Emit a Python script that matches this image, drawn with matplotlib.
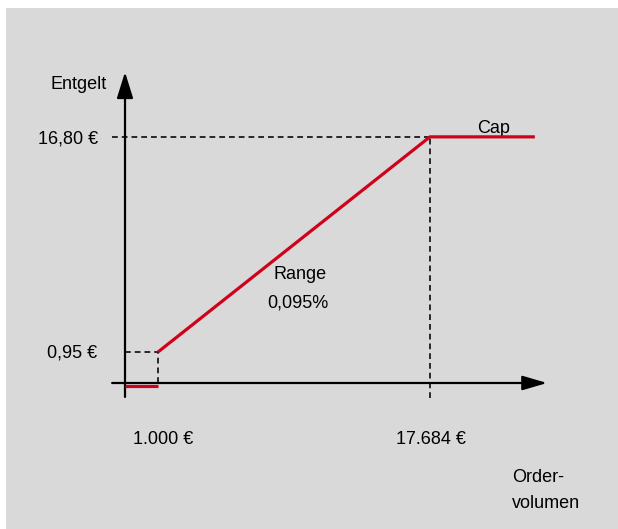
import matplotlib
matplotlib.use("Agg")
import matplotlib.pyplot as plt
from matplotlib.patches import Rectangle

plt.rcParams['font.family'] = ['Liberation Sans', 'DejaVu Sans']

# schematic units: x = 1 at "1.000 €", y = 1 at "0,95 €" (chart is not to scale)
fee_x = [1.0, 9.24, 12.42]          # start of range, cap point, end of cap line
fee_y = [1.0, 7.94, 7.94]
min_x = [0.0, 1.0]                  # flat part below 1.000 €
min_y = [-0.1, -0.1]
x_tick_pos = [1.15, 9.27]
x_tick_lab = ["1.000 €", "17.684 €"]
y_tick_pos = [1.0, 7.94]
y_tick_lab = ["0,95 €", "16,80 €"]

red = "#d0021b"
bg = "#d9d9d9"

fig = plt.figure(figsize=(6.18, 5.29), dpi=100)
ax = fig.add_axes([0, 0, 1, 1])
ax.set_xlim(-3.788, 14.939)
ax.set_ylim(-4.710, 12.355)
ax.axis('off')

# grey panel
ax.add_patch(Rectangle((6 / 618, 0), 1, 521 / 529, transform=ax.transAxes,
                       facecolor=bg, edgecolor='none', zorder=0))

# guide lines
dash = dict(color='#1a1a1a', lw=1.3, dashes=(3.2, 2.2), zorder=2)
ax.plot([-0.39, fee_x[1]], [fee_y[1], fee_y[1]], **dash)
ax.plot([fee_x[1], fee_x[1]], [-0.48, fee_y[1]], **dash)
ax.plot([0, fee_x[0]], [fee_y[0], fee_y[0]], **dash)
ax.plot([fee_x[0], fee_x[0]], [0, fee_y[0]], **dash)

# axes with arrows
arr = dict(arrowstyle='-|>,head_length=0.75,head_width=0.22', color='black',
           lw=1.6, shrinkA=0, shrinkB=0, mutation_scale=20)
ax.annotate('', xy=(12.79, 0), xytext=(-0.39, 0), arrowprops=arr, zorder=3)
arr_y = dict(arr, arrowstyle='-|>,head_length=0.8,head_width=0.25')
ax.annotate('', xy=(0, 10.03), xytext=(0, -0.45), arrowprops=arr_y, zorder=3)

# fee curve
ax.plot(fee_x, fee_y, color=red, lw=2.3, solid_capstyle='butt', zorder=4)
ax.plot(min_x, min_y, color=red, lw=2.3, solid_capstyle='butt', zorder=4)

fs = 13
for xp, lab in zip(x_tick_pos, x_tick_lab):
    ax.text(xp, -1.98, lab, ha='center', va='baseline', fontsize=fs)
ax.text(-0.85, y_tick_pos[0] - 0.19, y_tick_lab[0], ha='right', va='baseline', fontsize=fs)
ax.text(-0.82, y_tick_pos[1] - 0.21, y_tick_lab[1], ha='right', va='baseline', fontsize=fs)

ax.text(-0.545, 9.48, "Entgelt", ha='right', va='baseline', fontsize=fs)
ax.text(11.73, -3.19, "Order-", ha='left', va='baseline', fontsize=fs)
ax.text(11.73, -4.03, "volumen", ha='left', va='baseline', fontsize=fs)
ax.text(5.3, 3.35, "Range", ha='center', va='baseline', fontsize=fs)
ax.text(5.25, 2.42, "0,095%", ha='center', va='baseline', fontsize=fs)
ax.text(11.18, 8.06, "Cap", ha='center', va='baseline', fontsize=fs)

fig.savefig("out.png", dpi=100)
